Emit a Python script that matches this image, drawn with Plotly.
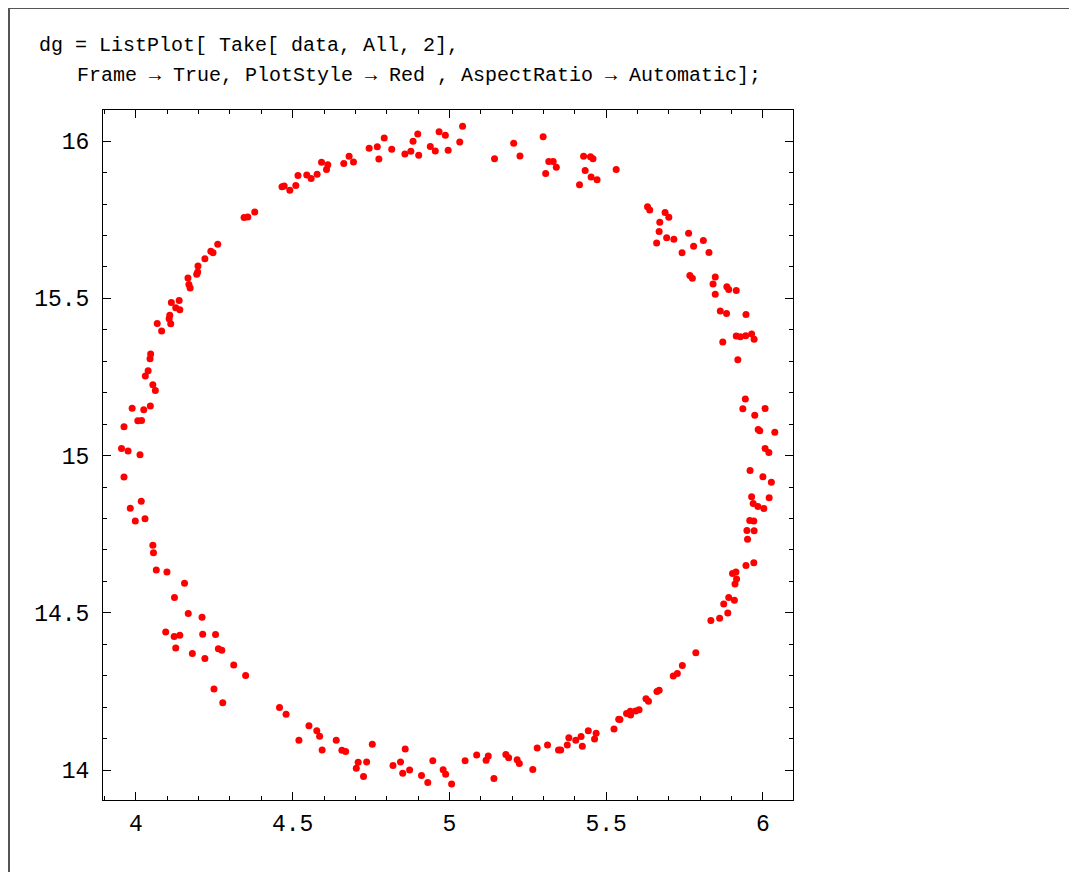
import plotly.graph_objects as go

# Data (x, y pairs of the red points)
x_vals = [
    4.379, 4.345, 4.357, 4.466, 4.473, 4.491, 4.510, 4.517, 4.545, 4.559,
    4.578, 4.592, 4.612, 4.608, 4.663, 4.680, 4.694, 4.744, 4.770, 4.792,
    4.775, 4.816, 4.858, 4.877, 4.884, 4.899, 4.902, 4.939, 4.955, 4.967,
    4.987, 4.996, 5.033, 5.042, 5.144, 5.205, 5.225, 5.299, 5.307, 5.317,
    5.331, 5.341, 5.428, 5.450, 5.458, 5.433, 5.452, 5.471, 5.415, 5.532,
    5.632, 5.639, 5.688, 5.700, 5.671, 5.669, 5.693, 5.716, 5.661, 5.763,
    5.810, 5.779, 5.742, 5.828, 5.767, 5.775, 5.848, 5.841, 5.885, 5.891,
    5.915, 5.848, 5.864, 5.884, 5.946, 5.915, 5.928, 5.945, 5.964, 5.972,
    5.872, 5.920, 5.944, 5.936, 6.007, 5.974, 5.985, 5.990, 6.038, 6.007,
    6.019, 5.959, 6.000, 6.027, 5.964, 6.020, 5.969, 5.984, 6.003, 5.958,
    5.971, 5.949, 5.972, 5.951, 5.946, 5.971, 5.903, 5.914, 5.916, 5.911,
    5.891, 5.909, 5.875, 5.888, 5.862, 5.834, 5.786, 5.743, 5.714, 5.727,
    5.662, 5.669, 5.627, 5.635, 5.540, 5.544, 5.565, 5.578, 5.577, 5.594,
    5.605, 5.525, 5.443, 5.468, 5.463, 5.420, 5.403, 5.381, 5.376, 5.424,
    5.313, 5.280, 5.348, 5.355, 5.124, 5.180, 5.189, 5.216, 5.223, 5.142,
    5.266, 4.458, 4.479, 4.552, 4.577, 4.586, 4.520, 4.639, 4.594, 4.657,
    4.669, 4.754, 4.709, 4.736, 4.703, 4.726, 4.859, 4.844, 4.820, 4.873,
    4.851, 4.911, 4.931, 4.947, 4.980, 4.988, 5.007, 5.050, 5.087, 5.117,
    4.054, 4.056, 4.065, 4.099, 4.155, 4.123, 4.167, 4.211, 4.095, 4.122,
    4.140, 4.213, 4.254, 4.127, 4.180, 4.220, 4.263, 4.274, 4.312, 4.350,
    4.249, 4.277, 4.039, 4.030, 4.054, 4.062, 3.988, 4.025, 4.046, 4.006,
    4.018, 3.962, 3.954, 3.975, 4.013, 3.962, 4.017, 3.982, 4.029, 3.998,
    4.261, 4.239, 4.246, 4.220, 4.198, 4.197, 4.194, 4.166, 4.169, 4.173,
    4.138, 4.113, 4.127, 4.140, 4.108, 4.106, 4.111, 4.068, 4.082, 4.047,
    4.045,
]
y_vals = [
    15.775, 15.757, 15.759, 15.855, 15.857, 15.844, 15.859, 15.891, 15.892, 15.881,
    15.895, 15.933, 15.925, 15.910, 15.929, 15.952, 15.934, 15.977, 15.982, 16.010,
    15.943, 15.974, 15.959, 15.968, 16.000, 16.023, 15.955, 15.983, 15.969, 16.030,
    16.019, 15.971, 15.997, 16.047, 15.944, 15.993, 15.953, 16.014, 15.897, 15.935,
    15.935, 15.917, 15.952, 15.950, 15.944, 15.907, 15.886, 15.877, 15.861, 15.910,
    15.791, 15.781, 15.773, 15.758, 15.742, 15.713, 15.693, 15.688, 15.676, 15.707,
    15.684, 15.666, 15.645, 15.646, 15.573, 15.564, 15.568, 15.546, 15.537, 15.528,
    15.525, 15.513, 15.460, 15.452, 15.449, 15.380, 15.378, 15.381, 15.387, 15.370,
    15.361, 15.305, 15.180, 15.149, 15.150, 15.128, 15.083, 15.079, 15.074, 15.023,
    15.010, 14.953, 14.933, 14.915, 14.869, 14.866, 14.848, 14.838, 14.832, 14.794,
    14.792, 14.762, 14.761, 14.734, 14.651, 14.659, 14.625, 14.630, 14.608, 14.592,
    14.549, 14.540, 14.528, 14.500, 14.483, 14.476, 14.373, 14.333, 14.299, 14.307,
    14.250, 14.254, 14.227, 14.219, 14.162, 14.161, 14.180, 14.175, 14.187, 14.188,
    14.192, 14.131, 14.125, 14.117, 14.099, 14.107, 14.095, 14.103, 14.080, 14.076,
    14.080, 14.070, 14.064, 14.064, 14.045, 14.050, 14.039, 14.033, 14.021, 13.973,
    14.002, 14.199, 14.178, 14.141, 14.125, 14.108, 14.095, 14.095, 14.064, 14.063,
    14.059, 14.082, 14.025, 14.026, 14.006, 13.980, 14.067, 14.026, 14.015, 14.000,
    13.990, 13.983, 13.961, 14.030, 14.001, 13.987, 13.956, 14.030, 14.048, 14.031,
    14.715, 14.691, 14.636, 14.630, 14.594, 14.549, 14.498, 14.486, 14.439, 14.425,
    14.429, 14.432, 14.431, 14.388, 14.371, 14.355, 14.386, 14.381, 14.334, 14.301,
    14.258, 14.214, 15.270, 15.253, 15.225, 15.207, 15.151, 15.146, 15.158, 15.111,
    15.112, 15.092, 15.023, 15.015, 15.003, 14.932, 14.855, 14.833, 14.799, 14.792,
    15.672, 15.650, 15.645, 15.626, 15.603, 15.584, 15.577, 15.565, 15.544, 15.533,
    15.493, 15.487, 15.470, 15.464, 15.446, 15.435, 15.419, 15.420, 15.396, 15.323,
    15.308,
]

code_line1 = "dg = ListPlot[ Take[ data, All, 2],"
code_line2 = "Frame \u2192 True, PlotStyle \u2192 Red , AspectRatio \u2192 Automatic];"

x_range = [3.895, 6.096]
y_range = [13.905, 16.099]

# The page has an 8px body margin, so the figure is drawn 8px in from the corner.
OFF = 8
W, H = 1077 - OFF, 872 - OFF
L, T = 103 - OFF, 110 - OFF
pw = ph = 690
R = W - L - pw
B = H - T - ph


def px(xp):  # page pixel -> paper x
    return (xp - OFF - L) / pw


def py(yp):  # page pixel -> paper y
    return (T + ph - (yp - OFF)) / ph


MONO = "Liberation Mono"

fig = go.Figure()
fig.add_trace(go.Scatter(
    x=x_vals, y=y_vals, mode="markers",
    marker=dict(color="#ff0000", size=7, line=dict(width=0)),
    hoverinfo="skip", showlegend=False,
))

axis_common = dict(
    showgrid=False, zeroline=False,
    showline=True, linecolor="black", linewidth=1, mirror="ticks",
    ticks="inside", ticklen=8, tickwidth=1, tickcolor="black",
    tickfont=dict(family=MONO, size=23, color="black"),
    dtick=0.5,
)

fig.update_xaxes(
    range=x_range, tick0=4,
    minor=dict(dtick=0.1, tick0=4, ticks="inside", ticklen=4, tickcolor="black", tickwidth=1, showgrid=False),
    ticklabelstandoff=2,
    **axis_common,
)
fig.update_yaxes(
    range=y_range, tick0=14,
    minor=dict(dtick=0.1, tick0=14, ticks="inside", ticklen=4, tickcolor="black", tickwidth=1, showgrid=False),
    ticklabelstandoff=8,
    **axis_common,
)

fig.add_annotation(
    text=code_line1, xref="paper", yref="paper", x=px(37), y=py(46),
    xanchor="left", yanchor="middle", showarrow=False,
    font=dict(family=MONO, size=20, color="black"),
)
fig.add_annotation(
    text=code_line2, xref="paper", yref="paper", x=px(75), y=py(75),
    xanchor="left", yanchor="middle", showarrow=False,
    font=dict(family=MONO, size=20, color="black"),
)

# notebook cell frame lines
fig.add_shape(type="line", xref="paper", yref="paper",
              x0=px(0), x1=px(1077), y0=py(8), y1=py(8),
              line=dict(color="#555555", width=2))
fig.add_shape(type="line", xref="paper", yref="paper",
              x0=px(9), x1=px(9), y0=py(8), y1=py(872),
              line=dict(color="#555555", width=2))

fig.update_layout(
    width=W, height=H, autosize=False,
    margin=dict(l=L, r=R, t=T, b=B, pad=0),
    plot_bgcolor="white", paper_bgcolor="white",
    showlegend=False,
)

fig.write_html("out.html")
